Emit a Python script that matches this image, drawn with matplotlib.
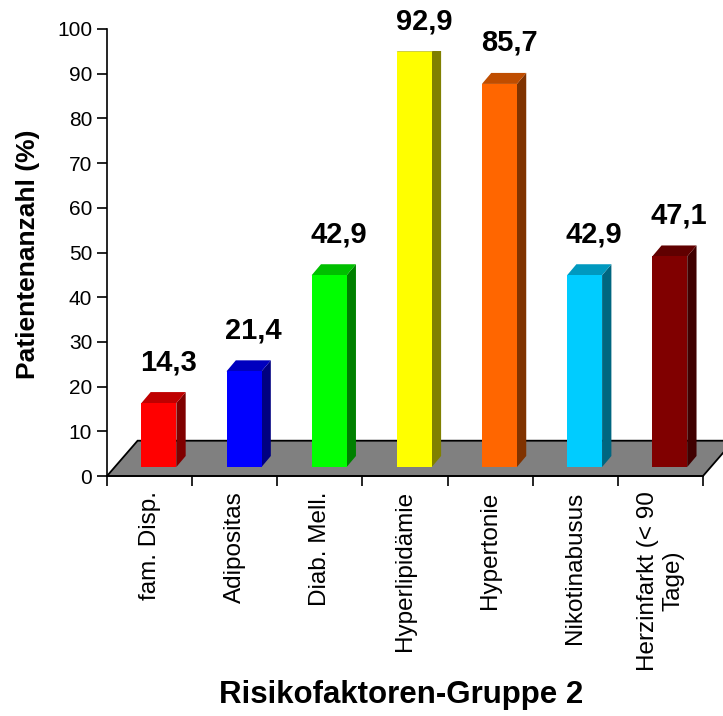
import matplotlib
matplotlib.use("Agg")
import matplotlib.pyplot as plt
from matplotlib.patches import Polygon, Rectangle
import numpy as np

plt.rcParams['font.family'] = ['Liberation Sans', 'DejaVu Sans']

# Data
categories = ["fam. Disp.", "Adipositas", "Diab. Mell.", "Hyperlipidämie",
              "Hypertonie", "Nikotinabusus", "Herzinfarkt (< 90\nTage)"]
values = [14.3, 21.4, 42.9, 92.9, 85.7, 42.9, 47.1]
value_labels = ["14,3", "21,4", "42,9", "92,9", "85,7", "42,9", "47,1"]
front_colors = ["#FF0000", "#0000FF", "#00FF00", "#FFFF00", "#FF6600", "#00CCFF", "#800000"]
yticks = list(range(0, 101, 10))

W, H = 723, 716
fig = plt.figure(figsize=(W / 100, H / 100), dpi=100)

# axes placement in pixels
ax_l, ax_r, ax_top, ax_bot = 107, 703, 29, 476
ax = fig.add_axes([ax_l / W, (H - ax_bot) / H, (ax_r - ax_l) / W, (ax_bot - ax_top) / H])
n = len(categories)
ax.set_xlim(0, n)
ax.set_ylim(0, 100)

px_x = (ax_r - ax_l) / n          # pixels per category
px_y = (ax_bot - ax_top) / 100.0  # pixels per unit

# floor depth and bar geometry (converted from pixel offsets)
floor_dx, floor_dy = 30.6 / px_x, 35.3 / px_y
bar_dx, bar_dy = 9.3 / px_x, 11.0 / px_y
bar_w = 35.0 / px_x
bar_shift = 9.3 / px_x
base = 9.0 / px_y
ceiling = 95.0
label_gap = 22.0 / px_y
label_shift = 9.5 / px_x


def shade(hexcol, f):
    rgb = np.array(matplotlib.colors.to_rgb(hexcol)) * f
    return tuple(rgb)


# floor
floor = Polygon([(0, 0), (n, 0), (n + floor_dx, floor_dy), (floor_dx, floor_dy)],
                closed=True, facecolor="#808080", edgecolor="black", lw=1.3,
                clip_on=False, zorder=1)
ax.add_patch(floor)

clip_rect = Rectangle((-1, -10), n + 3, ceiling + 10, transform=ax.transData)

for i, (v, col, lab) in enumerate(zip(values, front_colors, value_labels)):
    cx = i + 0.5 + bar_shift
    x0, x1 = cx - bar_w / 2, cx + bar_w / 2
    top = base + v
    side = Polygon([(x1, base), (x1 + bar_dx, base + bar_dy),
                    (x1 + bar_dx, top + bar_dy), (x1, top)],
                   closed=True, facecolor=shade(col, 0.5), edgecolor="none",
                   zorder=2, clip_on=True)
    cap = Polygon([(x0, top), (x1, top), (x1 + bar_dx, top + bar_dy), (x0 + bar_dx, top + bar_dy)],
                  closed=True, facecolor=shade(col, 0.75), edgecolor="none",
                  zorder=2, clip_on=True)
    front = Rectangle((x0, base), bar_w, v, facecolor=col, edgecolor="none", zorder=3)
    for p in (side, cap, front):
        ax.add_patch(p)
        p.set_clip_path(clip_rect)
    visible_top = min(top + bar_dy, ceiling)
    ax.text(cx + label_shift, visible_top + label_gap, lab, ha="center", va="baseline",
            fontsize=21, fontweight="bold", zorder=5, clip_on=False)

# axes styling
for s in ("top", "right"):
    ax.spines[s].set_visible(False)
ax.spines["left"].set_linewidth(1.2)
ax.spines["bottom"].set_linewidth(1.2)
ax.spines["left"].set_zorder(4)
ax.spines["bottom"].set_zorder(4)

ax.set_yticks(yticks)
ax.set_yticklabels([str(t) for t in yticks])
ax.tick_params(axis="y", direction="out", length=7.2, width=1.2, pad=3.5, labelsize=15)

ax.set_xticks(np.arange(0, n + 1))
ax.set_xticklabels([])
ax.set_xticks(np.arange(n) + 0.5, minor=True)
ax.set_xticklabels(categories, minor=True, rotation=90, fontsize=17.5,
                   multialignment="center")
ax.tick_params(axis="x", which="major", direction="out", length=7.2, width=1.2)
ax.tick_params(axis="x", which="minor", length=0, pad=11.0)

fig.text(28 / W, 1 - 254 / H, "Patientenanzahl (%)", rotation=90, ha="center", va="center",
         fontsize=19, fontweight="bold")
fig.text(401 / W, 1 - 695 / H, "Risikofaktoren-Gruppe 2", ha="center", va="center",
         fontsize=22.5, fontweight="bold")

fig.savefig("out.png", dpi=100)
